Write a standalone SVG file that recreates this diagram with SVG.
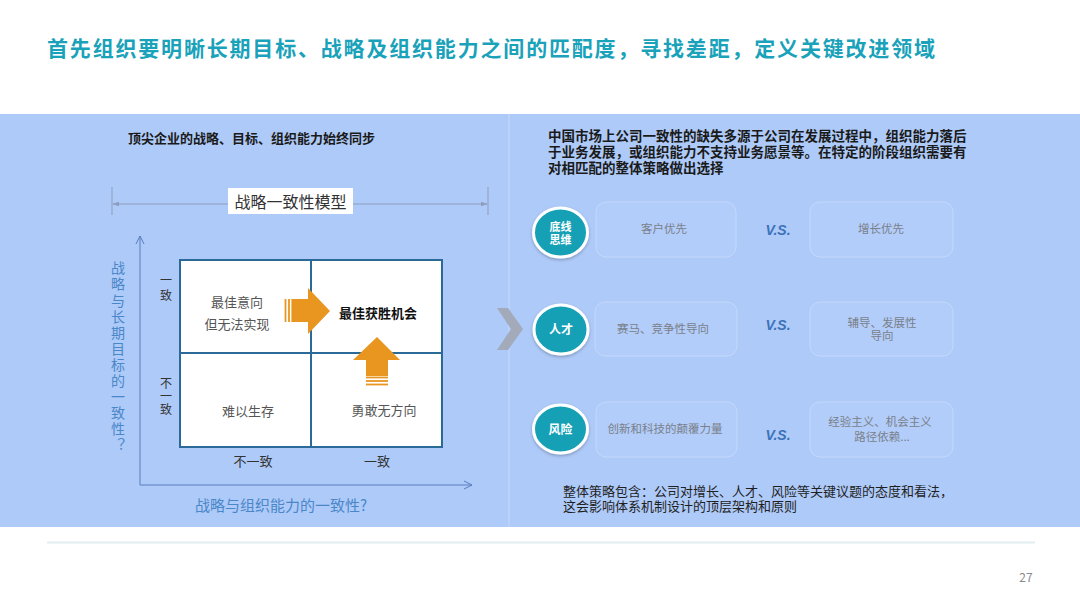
<svg xmlns="http://www.w3.org/2000/svg" width="1080" height="608" viewBox="0 0 1080 608">
  <defs>
    <style>
      text { font-family: "Noto Sans CJK SC", "Noto Sans", "Liberation Sans", sans-serif; }
      .title { font-size: 21px; font-weight: bold; fill: #1aa2ba; }
      .head { font-size: 13px; font-weight: bold; fill: #1a1a1a; }
      .para { font-size: 13.5px; font-weight: bold; fill: #1a1a1a; }
      .body { font-size: 13px; fill: #1f1f1f; }
      .qtext { font-size: 13px; fill: #555; text-anchor: middle; }
      .qbold { font-size: 13px; font-weight: bold; fill: #111; text-anchor: middle; }
      .axlab { font-size: 13px; fill: #333; text-anchor: middle; }
      .vlab { font-size: 12px; fill: #333; writing-mode: vertical-rl; text-orientation: upright; }
      .blue { font-size: 15px; fill: #4a87c9; text-anchor: middle; }
      .bluev { font-size: 14px; fill: #4a87c9; writing-mode: vertical-rl; text-orientation: upright; letter-spacing: 2.1px; }
      .box { fill: #b2cdf9; stroke: #c4d9fb; stroke-width: 1; }
      .btext { font-size: 11.5px; fill: #7a7f8a; text-anchor: middle; }
      .circ { fill: #18a0b6; stroke: #ffffff; stroke-width: 3; }
      .ctext { font-size: 12px; fill: #ffffff; text-anchor: middle; font-weight: bold; }
      .ctext2 { font-size: 11px; fill: #ffffff; text-anchor: middle; font-weight: bold; }
      .vs { font-family: "Liberation Sans", Arial, sans-serif; font-size: 14px; font-weight: bold; font-style: italic; fill: #3c72b8; text-anchor: middle; }
      .orange { fill: #e8961f; }
      .stripe { stroke: #e8961f; stroke-width: 1.8; }
      .axis { stroke: #5a7cc0; stroke-width: 1; fill: none; }
      .dim { stroke: #8e9dbd; stroke-width: 1; fill: none; }
      .grid { stroke: #2b6a98; stroke-width: 2; }
    </style>
    <marker id="axArrow" viewBox="0 0 10 10" refX="9" refY="5" markerWidth="10" markerHeight="10" markerUnits="userSpaceOnUse" orient="auto">
      <path d="M1,1 L9,5 L1,9" fill="none" stroke="#5a7cc0" stroke-width="1"/>
    </marker>
    <marker id="dimArrow" viewBox="0 0 10 10" refX="9" refY="5" markerWidth="7" markerHeight="7" markerUnits="userSpaceOnUse" orient="auto-start-reverse">
      <path d="M0,1.5 L10,5 L0,8.5 Z" fill="#8e9dbd"/>
    </marker>
    <filter id="sh" x="-20%" y="-20%" width="140%" height="150%">
      <feDropShadow dx="0" dy="1.5" stdDeviation="1.5" flood-color="#000" flood-opacity="0.25"/>
    </filter>
  </defs>

  <rect width="1080" height="608" fill="#ffffff"/>

  <g id="title">
    <text class="title" x="47" y="56" textLength="888" lengthAdjust="spacing">首先组织要明晰长期目标、战略及组织能力之间的匹配度，寻找差距，定义关键改进领域</text>
  </g>

  <g id="panel">
    <rect x="0" y="114" width="1080" height="413" fill="#aecaf8"/>
    <line x1="509" y1="114" x2="509" y2="527" stroke="#bed4fa" stroke-width="1.5"/>
  </g>

  <g id="left-heading">
    <text class="head" x="128" y="143">顶尖企业的战略、目标、组织能力始终同步</text>
  </g>

  <g id="connectors">
    <line class="dim" x1="112" y1="187" x2="112" y2="215"/>
    <line class="dim" x1="488" y1="187" x2="488" y2="215"/>
    <line class="dim" x1="113" y1="204" x2="487" y2="204" marker-start="url(#dimArrow)" marker-end="url(#dimArrow)"/>
    <line class="axis" x1="140" y1="485" x2="140" y2="236" marker-end="url(#axArrow)"/>
    <line class="axis" x1="140" y1="485" x2="472" y2="485" marker-end="url(#axArrow)"/>
  </g>

  <g id="model-label">
    <rect x="228" y="188" width="125" height="26" fill="#ffffff"/>
    <text x="290.5" y="207.5" font-size="16" fill="#333" text-anchor="middle">战略一致性模型</text>
  </g>

  <g id="y-axis-label">
    <text class="bluev" x="118" y="261">战略与长期目标的一致性？</text>
  </g>

  <g id="row-labels">
    <text class="vlab" x="166" y="274" letter-spacing="3">一致</text>
    <text class="vlab" x="166" y="377" letter-spacing="1">不一致</text>
  </g>

  <g id="col-labels">
    <text class="axlab" x="253" y="466">不一致</text>
    <text class="axlab" x="377" y="466">一致</text>
  </g>

  <g id="x-axis-label">
    <text class="blue" x="281" y="510.5">战略与组织能力的一致性?</text>
  </g>

  <g id="matrix">
    <rect x="180" y="260" width="262" height="187" fill="#ffffff" stroke="#2b6a98" stroke-width="2"/>
    <line class="grid" x1="311" y1="260" x2="311" y2="447"/>
    <line class="grid" x1="180" y1="353" x2="442" y2="353"/>
  </g>

  <g id="q-top-left">
    <text class="qtext" x="237" y="307">最佳意向</text>
    <text class="qtext" x="237" y="329">但无法实现</text>
  </g>
  <g id="q-top-right">
    <text class="qbold" x="378" y="318">最佳获胜机会</text>
  </g>
  <g id="q-bottom-left">
    <text class="qtext" x="248" y="416">难以生存</text>
  </g>
  <g id="q-bottom-right">
    <text class="qtext" x="384" y="415">勇敢无方向</text>
  </g>

  <g id="arrow-right">
    <polygon class="orange" points="293,299 308,299 308,288 330,311 308,334 308,322 293,322"/>
    <line class="stripe" x1="285.5" y1="299" x2="285.5" y2="322"/>
    <line class="stripe" x1="289" y1="299" x2="289" y2="322"/>
    <line class="stripe" x1="292.3" y1="299" x2="292.3" y2="322"/>
  </g>

  <g id="arrow-up">
    <polygon class="orange" points="366,376 366,360 353,360 377,337 400,360 388,360 388,376"/>
    <line class="stripe" x1="366" y1="377.5" x2="388" y2="377.5"/>
    <line class="stripe" x1="366" y1="381" x2="388" y2="381"/>
    <line class="stripe" x1="366" y1="384.5" x2="388" y2="384.5"/>
  </g>

  <g id="chevron">
    <polygon points="497,308 508,308 523,329 508,350 497,350 511,329" fill="#a3aab9"/>
  </g>

  <g id="right-paragraph">
    <text class="para" x="548" y="141">中国市场上公司一致性的缺失多源于公司在发展过程中，组织能力落后</text>
    <text class="para" x="548" y="157">于业务发展，或组织能力不支持业务愿景等。在特定的阶段组织需要有</text>
    <text class="para" x="548" y="173">对相匹配的整体策略做出选择</text>
  </g>

  <g id="row-bottom-line">
    <ellipse class="circ" cx="560.5" cy="232.5" rx="27" ry="24.5" filter="url(#sh)"/>
    <text class="ctext2"><tspan x="560.5" y="230.5">底线</tspan><tspan x="560.5" y="243.5">思维</tspan></text>
    <rect class="box" x="596" y="202" width="140" height="55" rx="10"/>
    <text class="btext" x="664" y="233">客户优先</text>
    <text class="vs" x="778" y="235">V.S.</text>
    <rect class="box" x="810" y="202" width="143" height="55" rx="10"/>
    <text class="btext" x="881" y="233">增长优先</text>
  </g>

  <g id="row-talent">
    <ellipse class="circ" cx="561" cy="329.5" rx="27" ry="24.5" filter="url(#sh)"/>
    <text class="ctext" x="561" y="334">人才</text>
    <rect class="box" x="595" y="302" width="142" height="54" rx="10"/>
    <text class="btext" x="663" y="332.5">赛马、竞争性导向</text>
    <text class="vs" x="778" y="330">V.S.</text>
    <rect class="box" x="810" y="302" width="143" height="54" rx="10"/>
    <text class="btext"><tspan x="882" y="326.5">辅导、发展性</tspan><tspan x="882" y="340">导向</tspan></text>
  </g>

  <g id="row-risk">
    <ellipse class="circ" cx="560.5" cy="429" rx="27" ry="24" filter="url(#sh)"/>
    <text class="ctext" x="560.5" y="433.5">风险</text>
    <rect class="box" x="596" y="402" width="141" height="55" rx="10"/>
    <text class="btext" x="665" y="433">创新和科技的颠覆力量</text>
    <text class="vs" x="778" y="440">V.S.</text>
    <rect class="box" x="810" y="402" width="143" height="55" rx="10"/>
    <text class="btext"><tspan x="880" y="426">经验主义、机会主义</tspan><tspan x="882" y="441">路径依赖...</tspan></text>
  </g>

  <g id="summary">
    <text class="body" x="563" y="496">整体策略包含：公司对增长、人才、风险等关键议题的态度和看法，</text>
    <text class="body" x="563" y="511">这会影响体系机制设计的顶层架构和原则</text>
  </g>

  <g id="footer">
    <line x1="47" y1="542.5" x2="1035" y2="542.5" stroke="#e2eef0" stroke-width="2"/>
    <text x="1026" y="582" font-family="Liberation Sans, Arial, sans-serif" font-size="12" fill="#8a8a8a" text-anchor="middle">27</text>
  </g>
</svg>
